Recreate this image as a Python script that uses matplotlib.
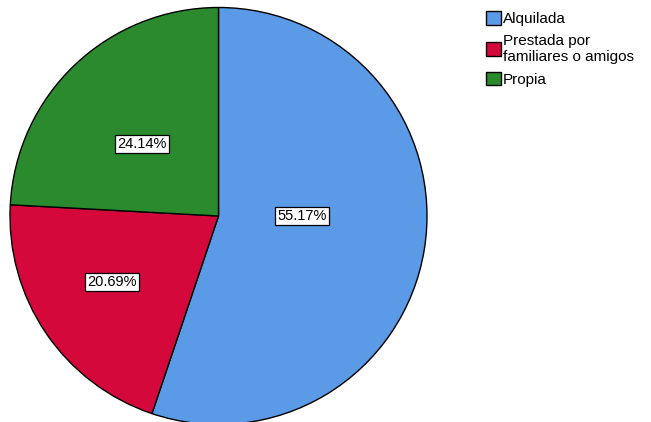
import matplotlib
matplotlib.use("Agg")
import matplotlib.pyplot as plt

categories = ["Alquilada", "Prestada por\nfamiliares o amigos", "Propia"]
percentages = [55.17, 20.69, 24.14]
colors = ["#5A9AE6", "#D5083C", "#2B8A2E"]

plt.rcParams['font.family'] = ['Liberation Sans', 'DejaVu Sans']

W, H = 651, 422
fig = plt.figure(figsize=(W / 100, H / 100), dpi=100)
cx, cy, r = 218.5, 216, 208.5
ax = fig.add_axes([(cx - r) / W, (H - cy - r) / H, 2 * r / W, 2 * r / H])

wedges, texts, autotexts = ax.pie(
    percentages, colors=colors, startangle=90, counterclock=False,
    autopct=lambda p: f"{p:.2f}%", radius=1,
    wedgeprops=dict(edgecolor="black", linewidth=1.0),
    textprops=dict(fontsize=10.5, color="black"))
for w in wedges:
    w.set_clip_on(False)
ax.set_xlim(-1, 1)
ax.set_ylim(-1, 1)
ax.set_aspect("equal")
ax.axis("off")

# label positions (in pixels of the reference image)
label_px = [(302, 216), (112, 282), (142, 144)]
for t, (px, py) in zip(autotexts, label_px):
    t.set_position(((px - cx) / r, (cy - py) / r))
    t.set_ha("center")
    t.set_va("center")
    t.set_bbox(dict(facecolor="white", edgecolor="black", linewidth=0.9, pad=1.5))

leg = fig.legend(wedges, categories, loc="upper left",
                 bbox_to_anchor=(486 / W, 1 - 11 / H), frameon=False,
                 fontsize=11, handlelength=1.0, handleheight=1.0,
                 handletextpad=0.12, labelspacing=0.5, borderpad=0,
                 borderaxespad=0)
for t in leg.get_texts():
    t.set_linespacing(1.2)

fig.savefig("out.png", dpi=100)
